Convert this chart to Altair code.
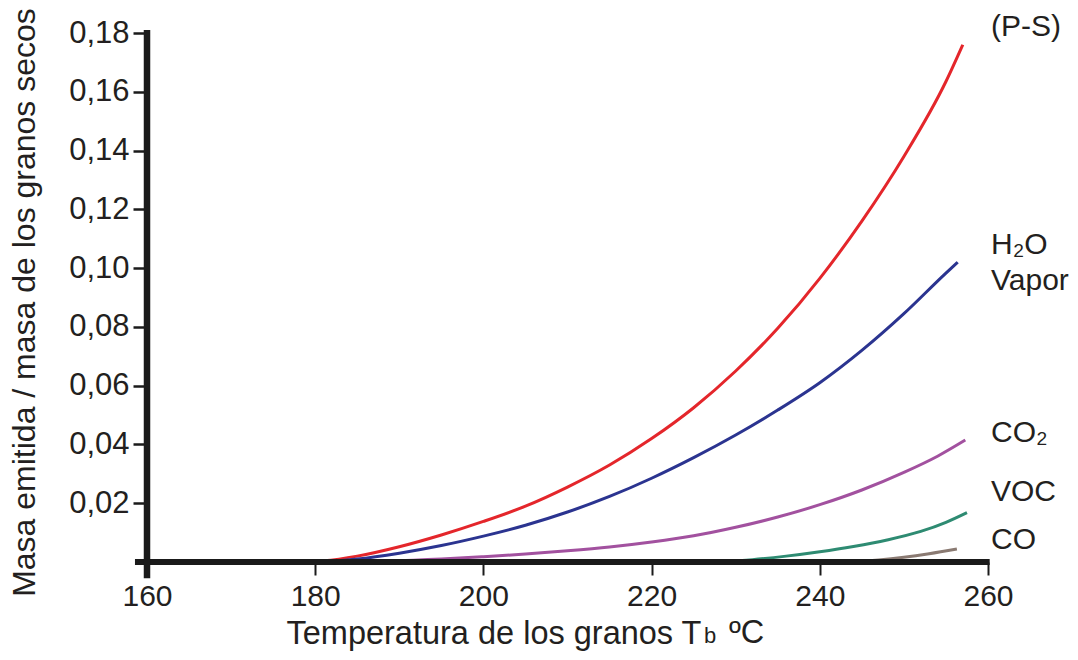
import altair as alt
import pandas as pd

FONT = "Liberation Sans"
TXT = "#231f20"

# ---- data ----
ps_t = [167, 178, 181, 185, 190, 195, 200, 205, 210, 215, 220, 225, 230, 235, 240, 245, 250, 255, 257]
ps_v = [0, 0, 0.0004, 0.002, 0.0052, 0.0092, 0.0138, 0.019, 0.0255, 0.033, 0.042, 0.0525, 0.065, 0.0795, 0.0965, 0.116, 0.138, 0.1635, 0.176]

h2o_t = [170, 179, 182, 185, 190, 195, 200, 205, 210, 215, 220, 225, 230, 235, 240, 245, 250, 255, 256.4]
h2o_v = [0, 0, 0.0003, 0.001, 0.003, 0.0056, 0.0088, 0.0125, 0.017, 0.0223, 0.0285, 0.0355, 0.0432, 0.0517, 0.061, 0.072, 0.0845, 0.0983, 0.102]

co2_t = [180, 188, 195, 200, 205, 210, 215, 220, 225, 230, 235, 240, 245, 250, 254, 257.3]
co2_v = [0, 0.0003, 0.001, 0.0018, 0.0027, 0.0038, 0.0051, 0.0068, 0.0089, 0.0118, 0.0153, 0.0195, 0.0245, 0.0305, 0.036, 0.0415]

voc_t = [228, 232, 236, 240, 244, 248, 252, 255, 257.5]
voc_v = [0, 0.0008, 0.002, 0.0035, 0.0053, 0.0075, 0.0104, 0.0135, 0.0168]

co_t = [243, 247, 250, 253, 256.3]
co_v = [0, 0.0007, 0.0016, 0.0028, 0.0044]

series_names = ["P-S", "H2O", "CO2", "VOC", "CO"]
series_colors = ["#e4262b", "#2b3490", "#a2519f", "#2e8b72", "#8a7a72"]

label_text = ["(P-S)", "H₂O", "Vapor", "CO₂", "VOC", "CO"]
label_y = [0.182, 0.108, 0.0955, 0.0439, 0.0238, 0.0075]

x_ticks = [160, 180, 200, 220, 240, 260]
y_ticks = [0.02, 0.04, 0.06, 0.08, 0.10, 0.12, 0.14, 0.16, 0.18]

# ---- build table ----
rows = []
for name, ts, vs in zip(series_names, [ps_t, h2o_t, co2_t, voc_t, co_t], [ps_v, h2o_v, co2_v, voc_v, co_v]):
    for i, (t, v) in enumerate(zip(ts, vs)):
        rows.append({"serie": name, "T": t, "v": v, "i": i})
df = pd.DataFrame(rows)
lab = pd.DataFrame({"txt": label_text, "y": label_y, "x": [260] * len(label_text)})

xscale = alt.Scale(domain=[160, 260], nice=False, zero=False)
yscale = alt.Scale(domain=[0, 0.18], nice=False)

lines = alt.Chart(df).mark_line(strokeWidth=3, interpolate="monotone", clip=False).encode(
    x=alt.X("T:Q", scale=xscale, axis=alt.Axis(
        values=x_ticks, domain=False, grid=False, tickSize=13, tickWidth=2, tickColor="#1a1a1a",
        labelFlush=False, labelFontSize=30, labelFont=FONT, labelColor=TXT, labelPadding=6,
        title="Temperatura de los granos T", titleFont=FONT, titleFontSize=32.5, titleFontWeight="normal",
        titleColor=TXT, titleAlign="left", titleX=139, titleY=81, titleBaseline="alphabetic")),
    y=alt.Y("v:Q", scale=yscale, axis=alt.Axis(
        values=y_ticks, domain=False, grid=False, tickSize=14, tickWidth=2.5, tickColor="#1a1a1a",
        labelFlush=False, labelExpr="replace(format(datum.value, '.2f'), '.', ',')",
        labelFontSize=31, labelFont=FONT, labelColor=TXT, labelPadding=4,
        title="Masa emitida / masa de los granos secos", titleFont=FONT, titleFontSize=32,
        titleFontWeight="normal", titleColor=TXT, titleAngle=-90, titleX=-113, titleY=269,
        titleAlign="center", titleBaseline="alphabetic")),
    color=alt.Color("serie:N", scale=alt.Scale(domain=series_names, range=series_colors), legend=None),
    order="i:Q",
)

xaxis_line = alt.Chart().mark_rule(strokeWidth=6, color="#1a1a1a", strokeCap="butt", clip=False).encode(
    x=alt.datum(158.57, scale=xscale), x2=alt.datum(260.2), y=alt.datum(0, scale=yscale))
yaxis_line = alt.Chart().mark_rule(strokeWidth=6.5, color="#1a1a1a", strokeCap="butt", clip=False).encode(
    x=alt.datum(160, scale=xscale), y=alt.datum(-0.0055, scale=yscale), y2=alt.datum(0.181))

labels = alt.Chart(lab).mark_text(align="left", baseline="middle", dx=3, fontSize=30, font=FONT, color=TXT).encode(
    x=alt.X("x:Q", scale=xscale), y=alt.Y("y:Q", scale=yscale), text="txt:N")

sub_b = alt.Chart().mark_text(align="left", baseline="alphabetic", fontSize=22, font=FONT, color=TXT, text="b").encode(
    x=alt.value(557), y=alt.value(610))
deg_c = alt.Chart().mark_text(align="left", baseline="alphabetic", fontSize=32.5, font=FONT, color=TXT, text="ºC").encode(
    x=alt.value(582), y=alt.value(610))

chart = alt.layer(lines, xaxis_line, yaxis_line, labels, sub_b, deg_c).properties(
    width=841, height=529,
    background="white",
    autosize=alt.AutoSizeParams(type="none"),
    padding={"left": 139, "top": 25, "right": 82, "bottom": 90},
).configure_view(strokeWidth=0, stroke=None)

chart.save("out.html", embed_options={"renderer": "svg", "actions": False})
